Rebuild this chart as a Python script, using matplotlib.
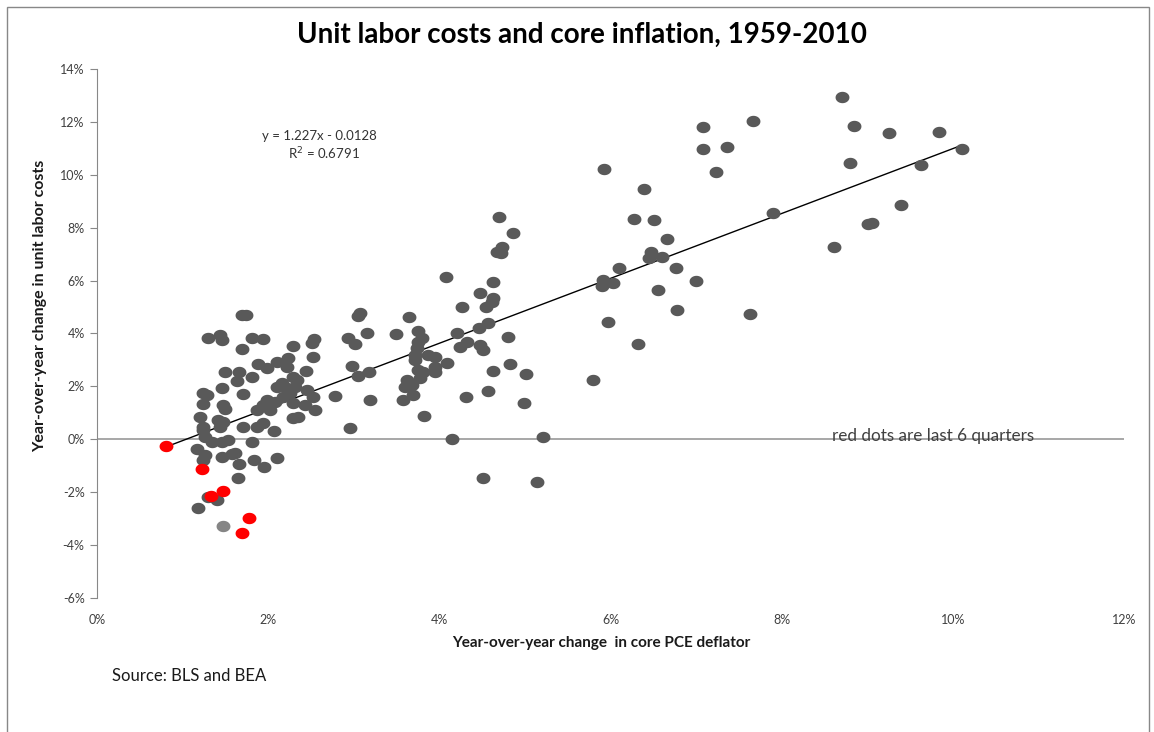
import matplotlib.pyplot as plt
import numpy as np
from matplotlib.path import Path
from matplotlib.patches import Rectangle
from matplotlib.ticker import FuncFormatter

plt.rcParams['font.family'] = ['Lato', 'DejaVu Sans']

# core PCE inflation (%), unit labor cost growth (%)
core_pce = [1.69, 1.74, 1.30, 1.44, 1.46, 1.81, 1.94, 1.69, 2.29, 2.51, 2.53, 2.52, 2.23, 2.10,
            1.88, 1.99, 2.22, 2.44, 1.50, 1.66, 1.64, 1.81, 2.29, 2.34, 1.46, 1.24, 1.29, 1.71,
            2.10, 2.16, 2.22, 2.25, 2.31, 2.45, 2.52, 2.43, 2.55, 2.29, 2.17, 2.08, 1.99, 1.94,
            1.87, 2.02, 2.35, 2.29, 1.24, 1.20, 1.24, 1.24, 1.47, 1.50, 1.41, 1.47, 1.44, 1.71,
            1.87, 1.94, 2.07, 1.26, 1.34, 1.46, 1.53, 1.81, 1.17, 1.26, 1.24, 1.46, 1.58, 1.61,
            1.66, 1.83, 1.95, 2.10, 1.65, 1.18, 1.30, 1.40,
            4.08, 4.63, 4.47, 4.63, 4.61, 4.26, 4.55, 3.07, 3.05, 3.64, 3.15, 2.93, 3.01, 3.49,
            3.75, 3.80, 3.75, 3.74, 3.71, 3.71, 3.87, 3.95, 4.09, 3.95, 3.95, 4.21, 4.32, 4.24,
            4.46, 4.57, 4.47, 4.51, 4.80, 2.98, 3.05, 3.18, 3.62, 3.60, 3.68, 3.69, 3.77, 3.81,
            3.75, 2.78, 3.19, 3.57, 3.82, 4.31, 4.57, 4.63, 4.82, 5.01, 4.99, 2.96, 4.15, 5.21,
            4.51, 5.14, 4.70, 4.86, 4.73, 4.67, 4.72,
            5.92, 6.39, 6.27, 6.51, 6.66, 6.47, 6.45, 6.60, 6.10, 6.76, 5.91, 5.90, 6.03, 7.00,
            6.55, 6.78, 7.63, 5.97, 6.32, 5.79,
            7.08, 7.08, 7.36, 7.23, 7.66, 8.70, 8.84, 9.25, 9.84, 10.11, 9.63, 8.80, 7.90, 9.39,
            9.05, 9.01, 8.61]
ulc = [4.68, 4.68, 3.82, 3.93, 3.75, 3.82, 3.78, 3.40, 3.52, 3.63, 3.78, 3.10, 3.06, 2.91,
       2.84, 2.69, 2.72, 2.57, 2.53, 2.53, 2.19, 2.35, 2.35, 2.23, 1.93, 1.74, 1.66, 1.70,
       1.97, 2.12, 1.93, 1.74, 1.97, 1.85, 1.59, 1.29, 1.10, 1.36, 1.59, 1.40, 1.47, 1.29,
       1.10, 1.10, 0.83, 0.79, 1.32, 0.83, 0.45, 0.34, 1.29, 1.13, 0.72, 0.64, 0.45, 0.45,
       0.45, 0.60, 0.30, 0.08, -0.11, -0.11, -0.04, -0.11, -0.38, -0.61, -0.79, -0.68, -0.57, -0.53,
       -0.95, -0.79, -1.06, -0.72, -1.48, -2.61, -2.19, -2.31,
       6.13, 5.94, 5.52, 5.33, 5.18, 4.99, 4.99, 4.77, 4.65, 4.62, 4.01, 3.82, 3.59, 3.97,
       4.09, 3.82, 3.67, 3.44, 3.18, 2.99, 3.18, 3.10, 2.88, 2.72, 2.53, 4.01, 3.67, 3.48,
       4.20, 4.39, 3.56, 3.37, 3.86, 2.76, 2.38, 2.53, 2.23, 1.97, 2.04, 1.66, 2.31, 2.53,
       2.61, 1.63, 1.47, 1.47, 0.87, 1.59, 1.82, 2.57, 2.84, 2.46, 1.36, 0.42, 0.00, 0.08,
       -1.48, -1.63, 8.40, 7.79, 7.26, 7.08, 7.04,
       10.20, 9.46, 8.32, 8.29, 7.57, 7.08, 6.85, 6.89, 6.47, 6.47, 6.02, 5.79, 5.90, 5.98,
       5.64, 4.88, 4.73, 4.43, 3.59, 2.23,
       11.80, 10.97, 11.05, 10.10, 12.03, 12.94, 11.84, 11.58, 11.62, 10.97, 10.37, 10.44, 8.55, 8.85,
       8.17, 8.13, 7.26]

# last 6 quarters (red)
recent_pce = [0.81, 1.23, 1.33, 1.47, 1.78, 1.69]
recent_ulc = [-0.26, -1.13, -2.16, -1.97, -2.99, -3.56]

# one lighter point
light_pce = [1.47]
light_ulc = [-3.29]

# trend line from the chart
slope = 1.227
intercept = -0.0128

# slightly flattened dot
t = np.linspace(0, 2 * np.pi, 40)
dot = Path(np.column_stack([np.cos(t), 0.82 * np.sin(t)]), closed=True)

fig = plt.figure(figsize=(11.54, 7.32), dpi=100)
ax = fig.add_axes([0.0841, 0.1833, 0.8899, 0.7224])

x = np.array(core_pce) / 100
y = np.array(ulc) / 100
xr = np.array(recent_pce) / 100
yr = np.array(recent_ulc) / 100

all_x = np.concatenate([x, xr])
xl = np.array([all_x.min(), all_x.max()])
ax.plot(xl, slope * xl + intercept, color='black', lw=1, zorder=2)

ax.scatter(x, y, s=100, marker=dot, color='#595959', linewidths=0, zorder=3)
ax.scatter(np.array(light_pce) / 100, np.array(light_ulc) / 100, s=100, marker=dot,
           color='#858585', linewidths=0, zorder=3)
ax.scatter(xr, yr, s=100, marker=dot, color='#ff0000', linewidths=0, zorder=4)

ax.axhline(0, color='#a0a0a0', lw=1.3, zorder=1)

ax.set_xlim(0, 0.12)
ax.set_ylim(-0.06, 0.14)
ax.set_xticks(np.arange(0, 0.121, 0.02))
ax.set_yticks(np.arange(-0.06, 0.141, 0.02))
pct = FuncFormatter(lambda v, p: '%d%%' % round(v * 100))
ax.xaxis.set_major_formatter(pct)
ax.yaxis.set_major_formatter(pct)

for s in ['top', 'right', 'bottom']:
    ax.spines[s].set_visible(False)
ax.spines['left'].set_color('#888888')
ax.tick_params(axis='y', direction='out', length=5, color='#888888',
               labelsize=9, labelcolor='#404040', pad=4)
ax.tick_params(axis='x', length=0, labelsize=9, labelcolor='#404040', pad=12)

fig.text(0.504, 0.952, 'Unit labor costs and core inflation, 1959-2010',
         ha='center', va='center', fontsize=20, fontweight='bold')
fig.text(0.5212, 1 - 643 / 732, 'Year-over-year change  in core PCE deflator',
         ha='center', va='center', fontsize=11, fontweight='bold', color='#1a1a1a')
fig.text(40 / 1154, 1 - 306 / 732, 'Year-over-year change in unit labor costs',
         ha='center', va='center', rotation=90, fontsize=11.5, fontweight='bold', color='#1a1a1a')

fig.text(262 / 1154, 1 - 136 / 732, 'y = 1.227x - 0.0128', ha='left', va='center',
         fontsize=9.5, color='#333333')
fig.text(288 / 1154, 1 - 154 / 732, 'R$^2$ = 0.6791', ha='left', va='center',
         fontsize=9.5, color='#333333')
fig.text(832 / 1154, 1 - 436 / 732, 'red dots are last 6 quarters', ha='left', va='center',
         fontsize=12.3, color='#404040')
fig.text(112 / 1154, 1 - 676 / 732, 'Source: BLS and BEA', ha='left', va='center',
         fontsize=12, color='#1a1a1a')

fig.patches.append(Rectangle((7 / 1154, -0.05), 1142 / 1154, 1.05 - 7 / 732,
                             transform=fig.transFigure, fill=False,
                             edgecolor='#888888', lw=1))

fig.savefig('out.png', dpi=100)
